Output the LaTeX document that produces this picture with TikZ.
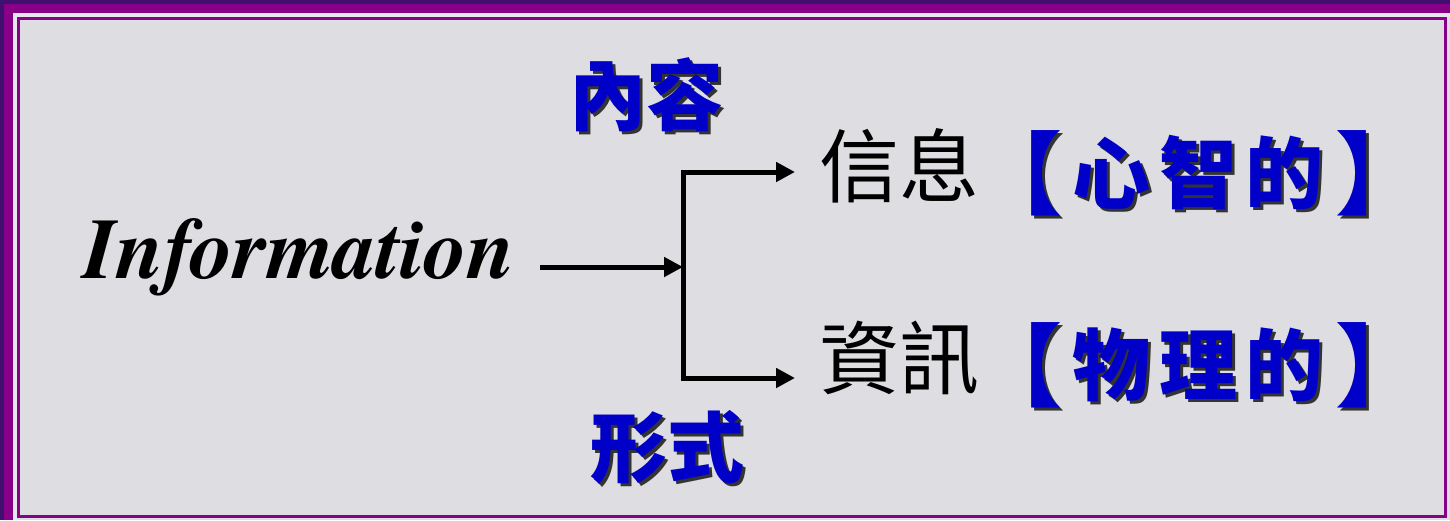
\documentclass[tikz,border=0pt]{standalone}
\usepackage{fontspec}
\setmainfont{Liberation Serif}
\newfontfamily\infofont{TeX Gyre Termes}
\newfontfamily\cjk{Noto Sans CJK TC}
\usetikzlibrary{arrows.meta}
\definecolor{marble}{HTML}{DEDEE2}
\definecolor{mag}{HTML}{880088}
\definecolor{dpurp}{HTML}{3F1070}
\definecolor{tblue}{HTML}{0000C8}
\definecolor{edge}{HTML}{E8E8EC}
\begin{document}
\begin{tikzpicture}[x=1pt,y=-1pt,
  arr/.style={line width=5pt,-{Triangle[length=19pt,width=19pt]}},
  bluetxt/.style={text=tblue,inner sep=0pt},
  shadowtxt/.style={text=black!80,inner sep=0pt},
  charblue/.style={font=\cjk\bfseries\fontsize{78}{78}\selectfont},
  bracketblue/.style={font=\cjk\bfseries\fontsize{90}{90}\selectfont},
  headblue/.style={font=\cjk\bfseries\fontsize{77}{77}\selectfont},
  blacktxt/.style={text=black,inner sep=0pt,font=\cjk\fontsize{80}{80}\selectfont}
]
\useasboundingbox (0,0) rectangle (1450,520);
% background and frame
\fill[marble] (0,0) rectangle (1450,520);
\fill[mag] (0,0) rectangle (1450,13);
\fill[mag] (0,0) rectangle (13,520);
\fill[dpurp] (0,0) rectangle (1450,4);
\fill[dpurp] (0,0) rectangle (4,520);
\fill[edge] (13,13) rectangle (1450,16.5);
\fill[edge] (13,13) rectangle (16.5,520);
\draw[mag,line width=3pt] (18,18) rectangle (1445,516);

% Information
\node[anchor=base west,inner sep=0pt,font=\infofont\bfseries\itshape\fontsize{86}{86}\selectfont] (info) at (83,278) {Information};

% headings
\node[shadowtxt,headblue] (c1s) at (649,98) {內容};
\node[bluetxt,headblue] (c1) at (646,95) {內容};
\node[shadowtxt,headblue] (c2s) at (670,450) {形式};
\node[bluetxt,headblue] (c2) at (667,447) {形式};

% right texts
\node[blacktxt,anchor=west] (xin) at (819,166) {信息};
\node[blacktxt,anchor=west] (zx) at (819,358) {資訊};

\foreach \c/\x/\s [count=\i] in {【/1017/bracketblue,心/1111/charblue,智/1198/charblue,的/1284/charblue,】/1380/bracketblue}{
  \node[shadowtxt,\s] (m1s-\i) at (\x+3,176) {\c};
  \node[bluetxt,\s] (m1-\i) at (\x,173) {\c};
}
\foreach \c/\x/\s [count=\i] in {【/1017/bracketblue,物/1111/charblue,理/1198/charblue,的/1284/charblue,】/1380/bracketblue}{
  \node[shadowtxt,\s] (m2s-\i) at (\x+3,368) {\c};
  \node[bluetxt,\s] (m2-\i) at (\x,365) {\c};
}

% connectors
\coordinate (as) at (540,267);
\coordinate (j) at (683,267);
\coordinate (t1) at (795,172);
\coordinate (t2) at (795,378);
\draw[arr] (as) -- (j);
\draw[arr] (j) |- (t1);
\draw[arr] (j) |- (t2);
\end{tikzpicture}
\end{document}
